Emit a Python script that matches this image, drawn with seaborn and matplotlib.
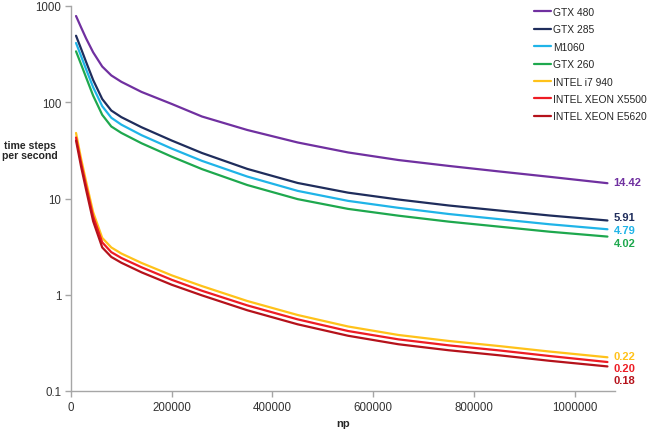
import numpy as np
import pandas as pd
import matplotlib
matplotlib.use('Agg')
import matplotlib.pyplot as plt
import matplotlib.ticker as mticker
import seaborn as sns

NP = [10000, 20000, 30000, 44000, 62000, 80000, 100000, 140000, 200000, 260000,
      350000, 450000, 550000, 650000, 750000, 850000, 950000, 1065000]

# time steps per second for each device
gtx480 = [787, 600, 460, 330, 235, 190, 163, 128, 96, 71.1, 51.5, 38.2, 30.1, 25.1, 21.8, 19.1, 16.8, 14.42]
gtx285 = [491, 360, 262, 170, 108, 82, 70, 55, 40, 29.7, 20.3, 14.5, 11.5, 9.76, 8.46, 7.5, 6.66, 5.91]
m1060 = [413, 302, 220, 143, 91, 69, 58.5, 45.5, 33, 24.6, 16.9, 12.0, 9.45, 8.0, 6.9, 6.1, 5.4, 4.79]
gtx260 = [338, 248, 181, 117, 74, 56, 48, 37.5, 27.2, 20.2, 13.8, 9.85, 7.8, 6.63, 5.75, 5.1, 4.52, 4.02]
i7_940 = [48, 26, 15, 7.2, 3.9, 3.1, 2.68, 2.14, 1.59, 1.23, 0.861, 0.616, 0.468, 0.382, 0.331, 0.293, 0.257, 0.224]
x5500 = [43, 23.5, 13.5, 6.5, 3.5, 2.77, 2.41, 1.93, 1.43, 1.1, 0.775, 0.555, 0.42, 0.344, 0.298, 0.264, 0.231, 0.20]
e5620 = [40, 21.5, 12.3, 5.8, 3.1, 2.47, 2.15, 1.71, 1.27, 0.985, 0.69, 0.493, 0.375, 0.306, 0.265, 0.235, 0.206, 0.18]

devices = ['GTX 480', 'GTX 285', 'M1060', 'GTX 260', 'INTEL i7 940', 'INTEL XEON X5500', 'INTEL XEON E5620']
series = [gtx480, gtx285, m1060, gtx260, i7_940, x5500, e5620]
colors = ['#7030A0', '#1F2D5C', '#1FB4E8', '#1EA84E', '#FFC21A', '#EE1C24', '#B5121B']
# label offsets (pixels) so the end values don't overlap
label_dy = [1, 3, -1, -6, 1, -6, -14]

rows = []
for name, vals in zip(devices, series):
    for n, v in zip(NP, vals):
        rows.append({'np': n, 'tsps': v, 'device': name})
df = pd.DataFrame(rows)

sns.set_style('white')
plt.rcParams['font.family'] = ['Liberation Sans', 'DejaVu Sans']

fig = plt.figure(figsize=(6.49, 4.31), dpi=100)
ax = fig.add_axes([71/649, 1 - 392/431, (615 - 71)/649, (392 - 7)/431])

sns.lineplot(data=df, x='np', y='tsps', hue='device', hue_order=devices,
             palette=colors, linewidth=1.6, ax=ax)

ax.set_yscale('log')
ax.set_ylim(0.1, 1000)
ax.set_xlim(0, 1.08e6)
ax.set_yticks([0.1, 1, 10, 100, 1000])
ax.yaxis.set_major_formatter(mticker.FuncFormatter(lambda v, p: f'{v:g}'))
ax.yaxis.set_minor_locator(mticker.NullLocator())
ax.set_xticks(range(0, 1000001, 200000))
ax.xaxis.set_major_formatter(mticker.FuncFormatter(lambda v, p: f'{int(v)}'))

for side in ['top', 'right']:
    ax.spines[side].set_visible(False)
for side in ['left', 'bottom']:
    ax.spines[side].set_color('#A6A6A6')
    ax.spines[side].set_linewidth(1.0)
ax.tick_params(axis='both', which='major', direction='out', length=4, width=1,
               color='#A6A6A6', labelsize=8.3, labelcolor='#333333', pad=3, left=True, bottom=True)

ax.set_xlabel('np', fontsize=8, fontweight='bold', labelpad=4)
ax.set_ylabel('')
fig.text(30/649, 1 - 151/431, 'time steps\nper second', fontsize=7.6, fontweight='bold',
         ha='center', va='center', linespacing=1.1)

# end-of-line values
for name, vals, c, dy in zip(devices, series, colors, label_dy):
    ax.annotate(f'{vals[-1]:.2f}', xy=(NP[-1], vals[-1]), xytext=(6, dy),
                textcoords='offset pixels', ha='left', va='center', color=c,
                fontsize=8, fontweight='bold', annotation_clip=False)

leg = ax.legend(loc='upper left', bbox_to_anchor=(534/649, 1 - 8/431),
                bbox_transform=fig.transFigure, frameon=False, fontsize=7.4,
                handlelength=1.7, handletextpad=0.15, labelspacing=0.72,
                borderpad=0, borderaxespad=0)
for h in leg.get_lines():
    h.set_linewidth(1.6)

fig.savefig('out.png', dpi=100)
